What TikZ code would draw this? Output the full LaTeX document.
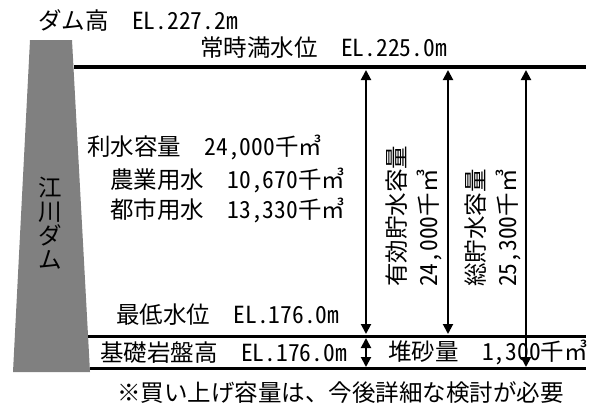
\documentclass[tikz,border=0pt]{standalone}
\usepackage{fontspec}
\setmainfont{Noto Sans CJK JP}
\newfontfamily\hankaku[CharacterWidth=Half]{Noto Sans CJK JP}
\newcommand{\hk}[1]{{\hankaku #1}}
\usetikzlibrary{arrows.meta}
\definecolor{damgray}{RGB}{128,128,128}

\begin{document}
\begin{tikzpicture}[x=1pt,y=-1pt,
        font=\fontsize{23.5}{24}\selectfont,
        every node/.style={inner sep=0pt,anchor=west},
        waterline/.style={line width=3pt},
        vtext/.style={rotate=90,align=left,font=\fontsize{23.5}{32}\selectfont},
        dimarrow/.style={line width=2pt,{Triangle[width=10pt,length=10pt]}-{Triangle[width=10pt,length=10pt]}}]

    \useasboundingbox (0,0) rectangle (600,408);
    % dam body
    \fill[damgray] (30,40) -- (72,40) -- (90,372) -- (13,372) -- cycle;
    \node[anchor=center,align=center] (dam) at (50,223) {江\\川\\ダ\\ム};

    % levels
    \coordinate (fullL) at (73.5,67);  \coordinate (fullR) at (586,67);
    \coordinate (lowL) at (88,336);    \coordinate (lowR) at (586,336);
    \coordinate (baseL) at (90,368);   \coordinate (baseR) at (586,368);
    \draw[waterline,line width=3.5pt] (fullL) -- (fullR);
    \draw[waterline] (lowL) -- (lowR);
    \draw[waterline] (baseL) -- (baseR);

    \node (damtop) at (38,20) {ダム高　\hk{EL.227.2m}};
    \node (fulltxt) at (200,48) {常時満水位　\hk{EL.225.0m}};
    \node (riyo) at (87,147) {利水容量　\hk{24,000}千㎥};
    \node (nogyo) at (110,180) {農業用水　\hk{10,670}千㎥};
    \node (toshi) at (110,210) {都市用水　\hk{13,330}千㎥};
    \node (lowtxt) at (116,315) {最低水位　\hk{EL.176.0m}};
    \node (basetxt) at (100,353) {基礎岩盤高　\hk{EL.176.0m}};
    \node (sed) at (388,352) {堆砂量　\hk{1,300}千㎥};
    \node (note) at (117,393) {※買い上げ容量は、今後詳細な検討が必要};
    \node[vtext] (yuko) at (414,287) {有効貯水容量\\\hk{24,000}千㎥};
    \node[vtext] (sou) at (493,287) {総貯水容量\\\hk{25,300}千㎥};

    % capacities
    \coordinate (a1t) at (366,70);  \coordinate (a1b) at (366,334);
    \coordinate (a2t) at (448,70);  \coordinate (a2b) at (448,334);
    \coordinate (a3t) at (526,70);  \coordinate (a3b) at (526,367);
    \coordinate (a4t) at (366,338); \coordinate (a4b) at (366,367);
    \draw[dimarrow] (a1t) -- (a1b);
    \draw[dimarrow] (a2t) -- (a2b);
    \draw[dimarrow] (a3t) -- (a3b);
    \draw[dimarrow] (a4t) -- (a4b); % sediment
\end{tikzpicture}
\end{document}
